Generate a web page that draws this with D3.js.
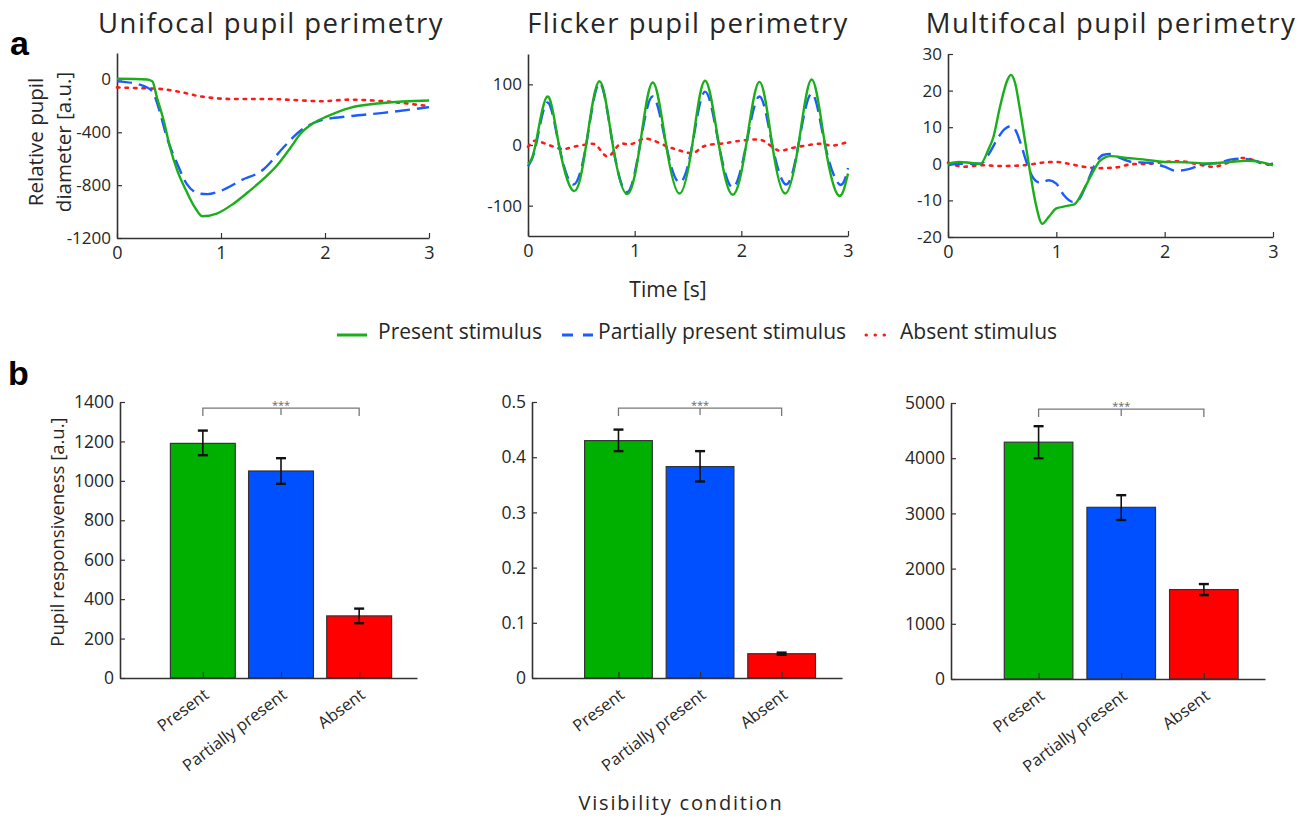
<!DOCTYPE html>
<html>
<head>
<meta charset="utf-8">
<script src="https://cdn.jsdelivr.net/npm/d3@7"></script>
<style>
  body { margin: 0; background: #fff; }
  text { font-family: "Open Sans", "Noto Sans", sans-serif; fill: #262626; }
</style>
</head>
<body>
<svg id="fig" width="1304" height="819"></svg>
<script>
// === DATA ===
// panel a, unifocal: [time s, value]
const uniPresent = [[0,5],[0.29,0],[0.34,-15],[0.385,-140],[0.45,-315],[0.51,-515],[0.58,-690],[0.67,-850],[0.75,-970],[0.82,-1035],[0.96,-1015],[1.12,-940],[1.28,-840],[1.44,-730],[1.54,-650],[1.67,-515],[1.76,-415],[1.89,-330],[2.02,-280],[2.24,-215],[2.56,-178],[3,-160]];
const uniPartial = [[0,-15],[0.22,-40],[0.34,-90],[0.4,-215],[0.48,-440],[0.58,-640],[0.67,-790],[0.8,-865],[0.87,-868],[0.99,-845],[1.19,-765],[1.41,-680],[1.6,-515],[1.76,-390],[1.96,-310],[2.24,-278],[2.56,-253],[3,-210]];
const uniAbsent = [[0,-60],[0.16,-65],[0.38,-70],[0.61,-95],[0.8,-128],[1.12,-148],[1.44,-148],[1.76,-158],[1.96,-165],[2.24,-153],[2.56,-165],[3,-203]];

// panel a, flicker
const flkPresent = [[0,-31],[0.07,0],[0.18,80],[0.29,0],[0.43,-76],[0.545,0],[0.67,105],[0.795,0],[0.93,-81],[1.05,0],[1.17,103],[1.295,0],[1.42,-80],[1.54,0],[1.66,106],[1.79,0],[1.92,-82],[2.045,0],[2.17,104],[2.29,0],[2.41,-80],[2.535,0],[2.66,108],[2.785,0],[2.91,-83],[3,-47]];
const flkPartial = [[0,-35],[0.075,0],[0.18,70],[0.29,0],[0.42,-65],[0.545,0],[0.67,102],[0.795,0],[0.93,-78],[1.05,0],[1.17,80],[1.295,0],[1.42,-62],[1.54,0],[1.66,88],[1.79,0],[1.92,-70],[2.045,0],[2.17,80],[2.29,0],[2.42,-65],[2.535,0],[2.66,85],[2.785,0],[2.92,-65],[3,-38]];
const flkAbsent = [[0,-3],[0.05,6],[0.12,5],[0.3,-6],[0.4,-4],[0.55,1],[0.65,-2],[0.75,-19],[0.85,0],[0.95,1],[1.05,8],[1.15,9],[1.3,-2],[1.42,-9],[1.55,-13],[1.65,-2],[1.8,2],[1.95,6],[2.15,9],[2.25,2],[2.35,-9],[2.45,-6],[2.6,-1],[2.75,2],[2.85,-1],[3,5]];

// panel a, multifocal
const mfPresent = [[0,0],[0.1,0.5],[0.2,0.3],[0.3,0],[0.37,3.7],[0.42,7.4],[0.48,15.6],[0.55,23],[0.58,24.3],[0.62,22],[0.66,15.6],[0.71,6.5],[0.76,-2.7],[0.81,-10.9],[0.87,-16.4],[0.93,-14.5],[1.0,-12.2],[1.1,-11.5],[1.17,-11],[1.25,-7.2],[1.33,-2.7],[1.4,0.7],[1.5,2.1],[1.65,1.6],[1.8,1.2],[2.0,0.5],[2.2,0.4],[2.4,0.1],[2.6,0.5],[2.75,0.8],[2.9,0.4],[3,-0.4]];
const mfPartial = [[0,-0.4],[0.1,0],[0.3,0],[0.38,2.8],[0.45,6.5],[0.52,9.4],[0.58,10.3],[0.63,8.8],[0.68,4.7],[0.73,0],[0.79,-4],[0.85,-5.2],[0.93,-4.5],[1.0,-5.4],[1.07,-8.6],[1.15,-10.4],[1.2,-10],[1.28,-5.4],[1.36,0],[1.43,2.4],[1.5,2.7],[1.58,1.7],[1.7,0.5],[1.85,0.3],[2.0,-0.8],[2.1,-1.9],[2.2,-1.6],[2.35,-0.2],[2.5,0.3],[2.62,1.2],[2.72,1.4],[2.85,0.7],[2.95,-0.3],[3,0.1]];
const mfAbsent = [[0,0.3],[0.15,-0.8],[0.3,-0.4],[0.5,-0.6],[0.7,-0.4],[0.9,0.4],[1.0,0.5],[1.1,0.1],[1.25,-0.8],[1.4,-1.2],[1.55,-1],[1.7,-0.1],[1.85,0],[2.0,0.5],[2.15,0.7],[2.3,-0.1],[2.45,-0.8],[2.6,0.5],[2.7,1.6],[2.8,1.2],[2.9,0.1],[3,-0.2]];

const timeTicks = [0, 1, 2, 3];
const uniTicks = [0, -400, -800, -1200];
const flkTicks = [-100, 0, 100];
const mfTicks = [-20, -10, 0, 10, 20, 30];

// panel b
const conditions = ["Present", "Partially present", "Absent"];
const uniMean = [1190, 1050, 315];
const uniErr = [[1130, 1255], [985, 1115], [278, 352]];
const flkMean = [0.43, 0.383, 0.044];
const flkErr = [[0.411, 0.45], [0.356, 0.411], [0.042, 0.046]];
const mfMean = [4290, 3110, 1620];
const mfErr = [[4000, 4580], [2880, 3330], [1520, 1720]];
const uniBarTicks = [0, 200, 400, 600, 800, 1000, 1200, 1400];
const flkBarTicks = [0, 0.1, 0.2, 0.3, 0.4, 0.5];
const mfBarTicks = [0, 1000, 2000, 3000, 4000, 5000];

const legendLabels = ["Present stimulus", "Partially present stimulus", "Absent stimulus"];

// === STYLE ===
const lineColors = ["#1aaf1a", "#1a5cff", "#ff1a1a"];
const barColors = ["#00b000", "#0050ff", "#ff0000"];
const dashes = [null, "15,7", "2.5,6"];
const axisColor = "#333";

const svg = d3.select("#fig");

function styleAxis(g, size) {
    g.select(".domain").attr("stroke", axisColor).attr("stroke-width", 1.6);
    g.selectAll(".tick line").attr("stroke", axisColor).attr("stroke-width", 1.2);
    g.selectAll(".tick text").attr("fill", "#262626").style("font-size", size + "px")
        .style("font-family", '"Open Sans", sans-serif');
}

// === TOP ROW: time courses ===
function linePanel(box, ydom, yticks, series, curve) {
    const x = d3.scaleLinear().domain([0, 3]).range([box.x0, box.x1]);
    const y = d3.scaleLinear().domain(ydom).range([box.y1, box.y0]);

    const gx = svg.append("g").attr("transform", `translate(0,${box.y1})`)
        .call(d3.axisBottom(x).tickValues(timeTicks).tickSizeInner(-5).tickSizeOuter(0).tickPadding(8).tickFormat(d3.format("d")));
    styleAxis(gx, 18);

    const gy = svg.append("g").attr("transform", `translate(${box.x0},0)`)
        .call(d3.axisLeft(y).tickValues(yticks).tickSizeInner(-5).tickSizeOuter(0).tickPadding(6)
            .tickFormat(d => String(d).replace("\u2212", "-")));
    styleAxis(gy, 17);

    const line = d3.line().x(d => x(d[0])).y(d => y(d[1])).curve(curve);
    // absent first, present on top
    [2, 1, 0].forEach(i => {
        svg.append("path")
            .datum(series[i])
            .attr("d", line)
            .attr("fill", "none")
            .attr("stroke", lineColors[i])
            .attr("stroke-width", i === 2 ? 2.6 : 2.4)
            .attr("stroke-linecap", i === 2 ? "round" : "butt")
            .attr("stroke-dasharray", dashes[i]);
    });
}

linePanel({ x0: 117, x1: 429, y0: 53, y1: 238 }, [-1200, 200], uniTicks,
    [uniPresent, uniPartial, uniAbsent], d3.curveMonotoneX);
linePanel({ x0: 528, x1: 848, y0: 54, y1: 236 }, [-150, 150], flkTicks,
    [flkPresent, flkPartial, flkAbsent], d3.curveNatural);
linePanel({ x0: 948, x1: 1273, y0: 54, y1: 237 }, [-20, 30], mfTicks,
    [mfPresent, mfPartial, mfAbsent], d3.curveMonotoneX);

// titles
const titles = [["Unifocal pupil perimetry", 271], ["Flicker pupil perimetry", 688], ["Multifocal pupil perimetry", 1111]];
titles.forEach(t => {
    svg.append("text").attr("x", t[1]).attr("y", 33).attr("text-anchor", "middle")
        .style("font-size", "27.5px").style("letter-spacing", "1.5px").text(t[0]);
});

// panel letters
svg.append("text").attr("x", 10).attr("y", 55).style("font-size", "34px").style("font-weight", "bold")
    .style("font-family", '"Liberation Sans", Arial, sans-serif').style("fill", "#000").text("a");
svg.append("text").attr("x", 8).attr("y", 385).style("font-size", "34px").style("font-weight", "bold")
    .style("font-family", '"Liberation Sans", Arial, sans-serif').style("fill", "#000").text("b");

// y label top row
svg.append("text").attr("transform", "translate(43,142) rotate(-90)").attr("text-anchor", "middle")
    .style("font-size", "20.5px").text("Relative pupil");
svg.append("text").attr("transform", "translate(71,142) rotate(-90)").attr("text-anchor", "middle")
    .style("font-size", "20.5px").text("diameter [a.u.]");

svg.append("text").attr("x", 668).attr("y", 297).attr("text-anchor", "middle")
    .style("font-size", "21px").text("Time [s]");

// legend
const legend = [[337, 367, 378], [562, 593, 598], [866, 892, 900]];
legend.forEach((l, i) => {
    svg.append("line").attr("x1", l[0]).attr("x2", l[1]).attr("y1", 335).attr("y2", 335)
        .attr("stroke", lineColors[i]).attr("stroke-width", 3)
        .attr("stroke-linecap", i === 2 ? "round" : "butt")
        .attr("stroke-dasharray", i === 1 ? "11,10" : (i === 2 ? "0.5,8.5" : null));
    svg.append("text").attr("x", l[2]).attr("y", 339)
        .style("font-size", "21px").text(legendLabels[i]);
});

// === BOTTOM ROW: bars ===
function barPanel(box, ymax, ticks, means, errs, fmt) {
    const x = d3.scaleLinear().domain([-0.06, 3.74]).range([box.x0, box.x1]);
    const y = d3.scaleLinear().domain([0, ymax]).range([box.y1, box.y0]);
    const bw = x(0.83) - x(0);

    svg.selectAll(null).data(means).enter().append("rect")
        .attr("x", (d, i) => x(i + 1) - bw / 2)
        .attr("y", d => y(d))
        .attr("width", bw)
        .attr("height", d => y(0) - y(d))
        .attr("fill", (d, i) => barColors[i])
        .attr("stroke", "#333").attr("stroke-width", 1.2);

    const gx = svg.append("g").attr("transform", `translate(0,${box.y1})`)
        .call(d3.axisBottom(x).tickValues([1, 2, 3]).tickSizeInner(-6).tickSizeOuter(0).tickFormat(""));
    styleAxis(gx, 17);

    const gy = svg.append("g").attr("transform", `translate(${box.x0},0)`)
        .call(d3.axisLeft(y).tickValues(ticks).tickSizeInner(-5).tickSizeOuter(0).tickPadding(6).tickFormat(fmt));
    styleAxis(gy, 17.5);

    // error bars
    errs.forEach((e, i) => {
        const cx = x(i + 1);
        const g = svg.append("g").attr("stroke", "#111").attr("stroke-width", 1.6);
        g.append("line").attr("x1", cx).attr("x2", cx).attr("y1", y(e[0])).attr("y2", y(e[1]));
        g.append("line").attr("x1", cx - 5).attr("x2", cx + 5).attr("y1", y(e[0])).attr("y2", y(e[0])).attr("stroke-width", 2.4);
        g.append("line").attr("x1", cx - 5).attr("x2", cx + 5).attr("y1", y(e[1])).attr("y2", y(e[1])).attr("stroke-width", 2.4);
    });

    // significance bracket
    const by = y(ymax * 0.978);
    svg.append("path")
        .attr("d", `M${x(1)},${by + 8}V${by}H${x(3)}V${by + 8}M${x(2)},${by}V${by + 7}`)
        .attr("fill", "none").attr("stroke", "#777").attr("stroke-width", 1.3);
    svg.append("text").attr("x", x(2)).attr("y", by + 1).attr("text-anchor", "middle")
        .style("font-size", "11px").style("fill", "#666").text("***");

    // category labels
    conditions.forEach((c, i) => {
        svg.append("text")
            .attr("transform", `translate(${x(i + 1) + 7},${box.y1 + 19}) rotate(-37)`)
            .attr("text-anchor", "end")
            .style("font-size", "16.5px")
            .text(c);
    });
}

barPanel({ x0: 120, x1: 417, y0: 402, y1: 678 }, 1400, uniBarTicks, uniMean, uniErr, d3.format("d"));
barPanel({ x0: 532, x1: 842, y0: 402, y1: 678 }, 0.5, flkBarTicks, flkMean, flkErr, d => d === 0 ? "0" : d3.format(".1f")(d));
barPanel({ x0: 951, x1: 1265, y0: 403, y1: 679 }, 5000, mfBarTicks, mfMean, mfErr, d3.format("d"));

svg.append("text").attr("transform", "translate(64,532) rotate(-90)").attr("text-anchor", "middle")
    .style("font-size", "18.5px").text("Pupil responsiveness [a.u.]");
svg.append("text").attr("x", 681).attr("y", 810).attr("text-anchor", "middle")
    .style("font-size", "20px").style("letter-spacing", "1.8px").text("Visibility condition");
</script>
</body>
</html>
